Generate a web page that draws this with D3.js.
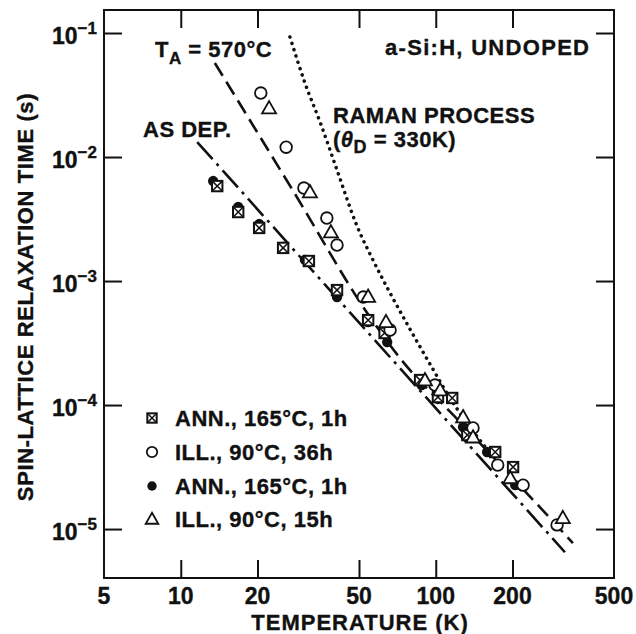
<!DOCTYPE html>
<html>
<head>
<meta charset="utf-8">
<script src="https://cdnjs.cloudflare.com/ajax/libs/d3/7.8.5/d3.min.js"></script>
<style>
  body { margin:0; background:#fff; }
  svg text { font-family: "Liberation Sans", Arial, Helvetica, sans-serif; font-weight: bold; fill:#111; stroke:#111; stroke-width:0.35px; }
</style>
</head>
<body>
<svg id="chart" width="636" height="634"></svg>
<script>
(function(){
// temperature (K) and relaxation time (s)
var tempLabels = [5, 10, 20, 50, 100, 200, 500];
var tempTickMarks = [10, 20, 50, 100, 200];
var tauTicks = [1e-1, 1e-2, 1e-3, 1e-4, 1e-5];
var tauExp = ["\u22121", "\u22122", "\u22123", "\u22124", "\u22125"];

// ANN., 165C, 1h (boxed x)
var annBoxT   = [13.9, 16.8, 20.3, 25.2, 31.8, 41.0, 54.3, 63.0, 86.8, 102, 116, 133, 171, 201];
var annBoxTau = [5.83e-3, 3.60e-3, 2.68e-3, 1.85e-3, 1.45e-3, 8.45e-4, 4.84e-4, 3.81e-4, 1.59e-4, 1.16e-4, 1.14e-4, 5.73e-5, 4.18e-5, 3.16e-5];
// ILL., 90C, 36h (open circle)
var ill36T   = [20.6, 25.9, 30.4, 37.4, 41.0, 52.0, 66.2, 99.3, 140, 175, 220, 299];
var ill36Tau = [3.28e-2, 1.20e-2, 5.62e-3, 3.22e-3, 1.95e-3, 7.43e-4, 4.03e-4, 1.45e-4, 6.53e-5, 3.28e-5, 2.26e-5, 1.08e-5];
// ANN., 165C, 1h (filled circle)
var annDotT   = [13.4, 16.8, 20.3, 25.2, 30.7, 41.0, 54.3, 64.5, 88, 102, 128, 159, 205];
var annDotTau = [6.40e-3, 3.95e-3, 2.88e-3, 1.88e-3, 1.48e-3, 7.43e-4, 4.67e-4, 3.22e-4, 1.45e-4, 1.12e-4, 6.65e-5, 4.18e-5, 2.26e-5];
// ILL., 90C, 15h (open triangle)
var ill15T   = [22.2, 32.1, 38.8, 54.3, 63.8, 90.7, 104, 128, 140, 196, 315];
var ill15Tau = [2.48e-2, 5.22e-3, 2.48e-3, 7.5e-4, 4.68e-4, 1.59e-4, 1.32e-4, 8.0e-5, 5.5e-5, 2.58e-5, 1.23e-5];

// curves
var asDepT   = [11.6, 321];
var asDepTau = [1.32e-2, 6.5e-6];
var ta570T   = [13.6, 27.3, 55.2, 72.4, 124.5, 256, 345];
var ta570Tau = [5.73e-2, 5.52e-3, 5.13e-4, 2.39e-4, 7.3e-5, 1.50e-5, 7.7e-6];
var ramanT   = [26.8, 30.7, 35.2, 41.0, 49.1, 56.7, 66.2, 79.2, 94.9, 113.7, 136, 160];
var ramanTau = [9.29e-2, 3.95e-2, 1.91e-2, 7.85e-3, 2.78e-3, 1.48e-3, 8.0e-4, 4.10e-4, 2.14e-4, 1.14e-4, 6.65e-5, 4.34e-5];

var legendLabels = ["ANN., 165\u00B0C, 1h", "ILL., 90\u00B0C, 36h", "ANN., 165\u00B0C, 1h", "ILL., 90\u00B0C, 15h"];
var legendTypes = ["box", "circle", "dot", "tri"];

var margins = {top:10, left:104, right:22, bottom:56};
var width = 636, height = 634;
var svg = d3.select('#chart');

var x = d3.scaleLog().domain([5, 500]).range([margins.left, width - margins.right]);
var y = d3.scaleLog().domain([4.03e-6, 0.1533]).range([height - margins.bottom, margins.top]);

function zip(a, b){ return a.map(function(v, i){ return [v, b[i]]; }); }

// ticks, all pointing inward
function tidy(g){
  g.select('.domain').remove();
  g.selectAll('.tick line').attr('stroke', '#111').attr('stroke-width', 2);
}
svg.append('g').attr('transform', 'translate(0,' + (height - margins.bottom) + ')')
  .call(d3.axisBottom(x).tickValues(tempTickMarks).tickSize(-18).tickFormat('')).call(tidy);
svg.append('g').attr('transform', 'translate(0,' + margins.top + ')')
  .call(d3.axisTop(x).tickValues(tempTickMarks).tickSize(-18).tickFormat('')).call(tidy);
svg.append('g').attr('transform', 'translate(' + margins.left + ',0)')
  .call(d3.axisLeft(y).tickValues(tauTicks).tickSize(-18).tickFormat('')).call(tidy);
svg.append('g').attr('transform', 'translate(' + (width - margins.right) + ',0)')
  .call(d3.axisRight(y).tickValues(tauTicks).tickSize(-18).tickFormat('')).call(tidy);

svg.append('rect')
  .attr('x', margins.left).attr('y', margins.top)
  .attr('width', width - margins.left - margins.right)
  .attr('height', height - margins.top - margins.bottom)
  .attr('fill', 'none').attr('stroke', '#111').attr('stroke-width', 2);

// tick labels
svg.selectAll('.xlab').data(tempLabels).enter().append('text')
  .attr('class', 'xlab')
  .attr('x', function(d){ return x(d); })
  .attr('y', 604)
  .attr('text-anchor', 'middle')
  .style('font-size', '23px')
  .text(function(d){ return d; });

var ylab = svg.selectAll('.ylab').data(tauTicks).enter().append('text')
  .attr('class', 'ylab')
  .attr('x', 97)
  .attr('y', function(d){ return y(d) + 11; })
  .attr('text-anchor', 'end')
  .style('font-size', '23px');
ylab.append('tspan').text('10');
ylab.append('tspan').attr('dy', -10).style('font-size', '17px').text(function(d, i){ return tauExp[i]; });

// axis titles
svg.append('text').attr('x', 360).attr('y', 630).attr('text-anchor', 'middle')
  .style('font-size', '22px').style('letter-spacing', '1px').text('TEMPERATURE (K)');
svg.append('text').attr('transform', 'translate(33,297) rotate(-90)').attr('text-anchor', 'middle')
  .style('font-size', '22px').style('letter-spacing', '0.6px').text('SPIN-LATTICE RELAXATION TIME (s)');

// curves
var lineGen = d3.line()
  .x(function(d){ return x(d[0]); })
  .y(function(d){ return y(d[1]); })
  .curve(d3.curveMonotoneX);

svg.append('path').attr('d', lineGen(zip(ramanT, ramanTau)))
  .attr('fill', 'none').attr('stroke', '#111').attr('stroke-width', 3.5)
  .attr('stroke-linecap', 'round').attr('stroke-dasharray', '0.1 6.5');
svg.append('path').attr('d', lineGen(zip(ta570T, ta570Tau)))
  .attr('fill', 'none').attr('stroke', '#111').attr('stroke-width', 2.6)
  .attr('stroke-dasharray', '15 7');
svg.append('path').attr('d', lineGen(zip(asDepT, asDepTau)))
  .attr('fill', 'none').attr('stroke', '#111').attr('stroke-width', 2.6)
  .attr('stroke-dasharray', '23 6 3 6');

// markers
function marker(g, type, cx, cy, s){
  s = s || 1;
  if(type === 'box'){
    var h = 5.2 * s;
    g.append('rect').attr('x', cx - h).attr('y', cy - h).attr('width', 2 * h).attr('height', 2 * h)
      .attr('fill', '#fff').attr('stroke', '#111').attr('stroke-width', 2);
    g.append('path').attr('d', 'M' + (cx - h) + ',' + (cy - h) + 'L' + (cx + h) + ',' + (cy + h) +
      'M' + (cx + h) + ',' + (cy - h) + 'L' + (cx - h) + ',' + (cy + h))
      .attr('stroke', '#111').attr('stroke-width', 1.5);
  } else if(type === 'circle'){
    g.append('circle').attr('cx', cx).attr('cy', cy).attr('r', 5.8 * s)
      .attr('fill', '#fff').attr('stroke', '#111').attr('stroke-width', 1.8);
  } else if(type === 'dot'){
    g.append('circle').attr('cx', cx).attr('cy', cy).attr('r', 5.2 * s).attr('fill', '#111');
  } else {
    var a = 7 * s;
    g.append('path').attr('d', 'M' + cx + ',' + (cy - a) + 'L' + (cx + a) + ',' + (cy + a * 0.75) +
      'L' + (cx - a) + ',' + (cy + a * 0.75) + 'Z')
      .attr('fill', '#fff').attr('stroke', '#111').attr('stroke-width', 1.8).attr('stroke-linejoin', 'miter');
  }
}

var series = [
  {type:'dot', data:zip(annDotT, annDotTau)},
  {type:'box', data:zip(annBoxT, annBoxTau)},
  {type:'circle', data:zip(ill36T, ill36Tau)},
  {type:'tri', data:zip(ill15T, ill15Tau)}
];
series.forEach(function(sr){
  var g = svg.append('g');
  sr.data.forEach(function(d){ marker(g, sr.type, x(d[0]), y(d[1])); });
});

// legend
var leg = svg.append('g');
var legRows = [418, 452, 486, 519];
legendLabels.forEach(function(lbl, i){
  marker(leg, legendTypes[i], 152, legRows[i], 0.9);
  leg.append('text').attr('x', 175).attr('y', legRows[i] + 8)
    .style('font-size', '22px').style('letter-spacing', '0.5px').text(lbl);
});

// annotations
var ta = svg.append('text').attr('x', 155).attr('y', 57).style('font-size', '22px').style('letter-spacing', '0.5px');
ta.append('tspan').text('T');
ta.append('tspan').attr('dy', 7).style('font-size', '17px').text('A');
ta.append('tspan').attr('dy', -7).text(' = 570\u00B0C');

svg.append('text').attr('x', 143).attr('y', 137).style('font-size', '22px').style('letter-spacing', '0.5px').text('AS DEP.');
svg.append('text').attr('x', 385).attr('y', 55).style('font-size', '22px').style('letter-spacing', '1.3px').text('a-Si:H, UNDOPED');
svg.append('text').attr('x', 333).attr('y', 123).style('font-size', '22px').style('letter-spacing', '0.5px').text('RAMAN PROCESS');
var th = svg.append('text').attr('x', 333).attr('y', 147).style('font-size', '22px').style('letter-spacing', '0.5px');
th.append('tspan').text('(');
th.append('tspan').style('font-style', 'italic').text('\u03B8');
th.append('tspan').attr('dy', 6).style('font-size', '18px').text('D');
th.append('tspan').attr('dy', -6).text(' = 330K)');
})();
</script>
</body>
</html>
